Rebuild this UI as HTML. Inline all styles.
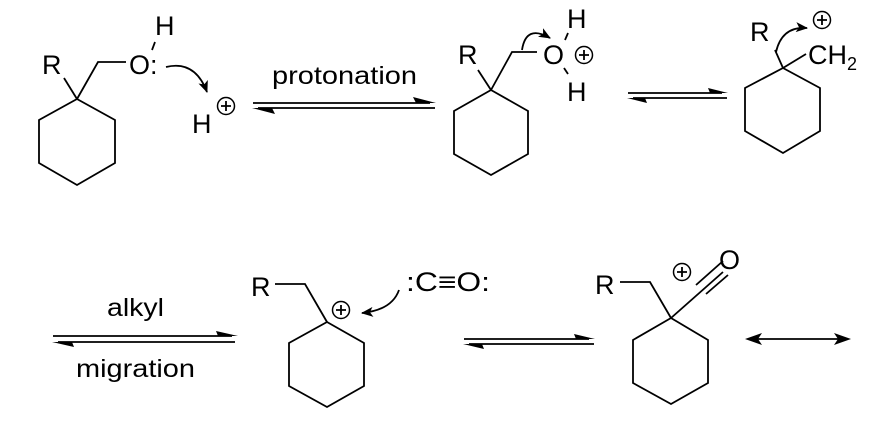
<!DOCTYPE html>
<html><head><meta charset="utf-8"><style>
html,body{margin:0;padding:0;background:#fff;}
svg{display:block;}
text{font-family:"Liberation Sans",Arial,sans-serif;fill:#000;}
</style></head><body>
<svg width="894" height="421" viewBox="0 0 894 421" xmlns="http://www.w3.org/2000/svg">
<defs>
<marker id="ah" markerWidth="12" markerHeight="10" refX="11" refY="5" orient="auto" markerUnits="userSpaceOnUse">
<path d="M0,0 L12,5 L0,10 L3,5 Z" fill="#000"/></marker>
<g id="plus"><circle r="8.5" fill="none" stroke="#000" stroke-width="1.5"/><path d="M-5,0 H5 M0,-5 V5" stroke="#000" stroke-width="1.8"/></g>
</defs>
<g stroke="#000" stroke-width="1.8" fill="none">
<polygon points="77,99 115,120 115,163 77,185 39,163 39,120"/>
<line x1="64" y1="78" x2="77" y2="99"/>
<polyline points="77,99 98,62 126,62"/>
<line x1="152" y1="50" x2="155" y2="42"/>
<path d="M166,67 Q195,60 207,92" marker-end="url(#ah)"/>
<line x1="253" y1="103" x2="430" y2="103"/>
<line x1="258" y1="108" x2="435" y2="108"/>
<polygon points="491,90 528,111 528,154 491,175 454,154 454,111"/>
<line x1="478" y1="70" x2="491" y2="90"/>
<polyline points="491,90 512,52 537,52"/>
<line x1="565" y1="40" x2="568" y2="33"/>
<line x1="564" y1="68" x2="568" y2="74"/>
<path d="M522,50 Q526,24 550,38" marker-end="url(#ah)"/>
<line x1="628" y1="93" x2="722" y2="93"/>
<line x1="633" y1="98" x2="727" y2="98"/>
<polygon points="783,68 820,88 820,131 783,153 745,131 745,88"/>
<line x1="775" y1="50" x2="783" y2="68"/>
<line x1="783" y1="68" x2="806" y2="54"/>
<path d="M776,52 Q782,26 807,28" marker-end="url(#ah)"/>
<line x1="53" y1="336" x2="232" y2="336"/>
<line x1="58" y1="342" x2="235" y2="342"/>
<polygon points="327,322 364,343 364,386 327,407 289,386 289,343"/>
<polyline points="275,284 305,284 327,322"/>
<path d="M399,290 Q392,310 362,313" marker-end="url(#ah)"/>
<line x1="464" y1="339" x2="589" y2="339"/>
<line x1="469" y1="344" x2="594" y2="344"/>
<polygon points="671,318 708,340 708,383 671,404 633,383 633,340"/>
<polyline points="620,282 650,282 671,318"/>
<line x1="671" y1="318" x2="723" y2="272"/>
<line x1="696" y1="285" x2="723" y2="261"/>
<line x1="706" y1="294" x2="728" y2="275"/>
<line x1="750" y1="339" x2="846" y2="339"/>
</g>
<path d="M436,103 L413,97 L416,103 Z"/>
<path d="M252,108 L275,114 L272,108 Z"/>
<path d="M728,93 L708,88 L710,93 Z"/>
<path d="M627,98 L647,103 L645,98 Z"/>
<path d="M238,336 L216,331 L218,336 Z"/>
<path d="M52,342 L74,347 L72,342 Z"/>
<path d="M595,339 L574,334 L576,339 Z"/>
<path d="M463,344 L484,349 L482,344 Z"/>
<path d="M745,339 L762,333 L758,339 L762,345 Z"/>
<path d="M851,339 L834,333 L838,339 L834,345 Z"/>
<use href="#plus" x="226" y="106"/>
<use href="#plus" x="584" y="55"/>
<use href="#plus" x="822" y="20"/>
<use href="#plus" x="341" y="310"/>
<use href="#plus" x="682" y="272"/>
<g font-size="27">
<text x="42" y="74">R</text>
<text x="155" y="35">H</text>
<text x="129" y="74">O:</text>
<text x="192" y="133">H</text>
<text x="458" y="64">R</text>
<text x="543" y="64">O</text>
<text x="567" y="28">H</text>
<text x="567" y="101">H</text>
<text x="750" y="41">R</text>
<text x="808" y="64">CH<tspan font-size="18" dy="6">2</tspan></text>
<text x="251" y="296">R</text>
<text x="406" y="291" textLength="84" lengthAdjust="spacingAndGlyphs">:C≡O:</text>
<text x="595" y="294">R</text>
<text x="719" y="269">O</text>
</g>
<g font-size="25">
<text x="272" y="84" textLength="145" lengthAdjust="spacingAndGlyphs">protonation</text>
<text x="107" y="316" textLength="57" lengthAdjust="spacingAndGlyphs">alkyl</text>
<text x="76" y="377" textLength="119" lengthAdjust="spacingAndGlyphs">migration</text>
</g>
</svg>
</body></html>
